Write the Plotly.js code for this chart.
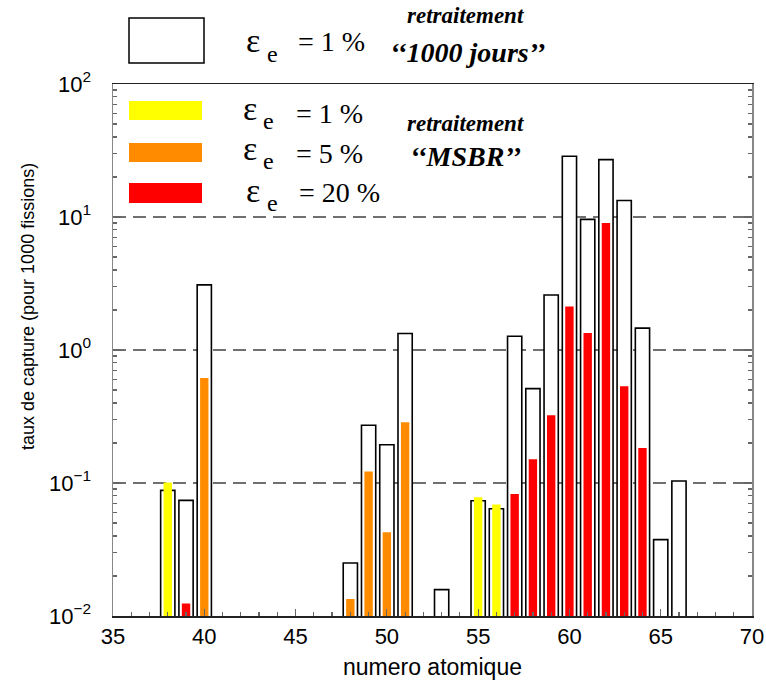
<!DOCTYPE html>
<html>
<head>
<meta charset="utf-8">
<script src="https://cdn.plot.ly/plotly-3.0.1.min.js"></script>
<style>html,body{margin:0;padding:0;background:#fff;}#chart{width:766px;height:683px;}</style>
</head>
<body>
<div id="chart"></div>
<script>
// ---- data ----
// retraitement "1000 jours", eps_e = 1 %
var z_1000 = [38, 39, 40, 48, 49, 50, 51, 53, 55, 56, 57, 58, 59, 60, 61, 62, 63, 64, 65, 66];
var taux_1000 = [0.088, 0.074, 3.09, 0.025, 0.272, 0.194, 1.33, 0.0158, 0.0736, 0.0641,
                 1.27, 0.512, 2.59, 28.6, 9.6, 27.0, 13.3, 1.46, 0.0375, 0.1035];
// retraitement "MSBR"
var z_msbr1 = [38, 55, 56];                 // eps_e = 1 %
var taux_msbr1 = [0.101, 0.078, 0.069];
var z_msbr5 = [40, 48, 49, 50, 51];         // eps_e = 5 %
var taux_msbr5 = [0.617, 0.0134, 0.122, 0.0426, 0.286];
var z_msbr20 = [39, 57, 58, 59, 60, 61, 62, 63, 64];   // eps_e = 20 %
var taux_msbr20 = [0.0124, 0.0827, 0.151, 0.323, 2.12, 1.34, 9.0, 0.533, 0.183];

var yTickVals = [0.01, 0.1, 1, 10, 100];
var yTickText = ['10<sup>\u22122</sup>', '10<sup>\u22121</sup>', '10<sup>0</sup>', '10<sup>1</sup>', '10<sup>2</sup>'];
var xTitle = 'numero atomique';
var yTitle = 'taux de capture (pour 1000 fissions)';

// ---- layout helpers ----
var L = 113, R = 14, T = 84, B = 67, W = 766, H = 683;
var pw = W - L - R, ph = H - T - B;
function px(x) { return (x - L) / pw; }
function py(y) { return (H - B - y) / ph; }

var minorVals = [];
[0.01, 0.1, 1, 10].forEach(function (d) { for (var k = 2; k <= 9; k++) minorVals.push(d * k); });

var traces = [
  { type: 'bar', x: z_1000, y: taux_1000, width: 0.78,
    marker: { color: '#ffffff', line: { color: '#000000', width: 1.6 } },
    name: '1000 jours', hoverinfo: 'x+y' },
  { type: 'bar', x: z_msbr1, y: taux_msbr1, width: 0.46,
    marker: { color: '#ffff00', line: { width: 0 } }, name: 'MSBR 1%' },
  { type: 'bar', x: z_msbr5, y: taux_msbr5, width: 0.46,
    marker: { color: '#ff8c00', line: { width: 0 } }, name: 'MSBR 5%' },
  { type: 'bar', x: z_msbr20, y: taux_msbr20, width: 0.46,
    marker: { color: '#ff0000', line: { width: 0 } }, name: 'MSBR 20%' }
];

var serif = 'Liberation Serif, Times New Roman, serif';
var sans = 'Liberation Sans, Arial, Helvetica, sans-serif';
function ann(text, x, y, size, anchor, extra) {
  var a = { text: text, xref: 'paper', yref: 'paper', x: px(x), y: py(y),
    xanchor: anchor || 'center', yanchor: 'middle', showarrow: false,
    font: { family: serif, size: size, color: '#000' } };
  if (extra) for (var k in extra) a[k] = extra[k];
  return a;
}

var annotations = [
  ann('\u03b5', 253, 40, 34), ann('e', 272, 54, 24), ann('= 1 %', 296, 42, 28, 'left'),
  ann('<b><i>retraitement</i></b>', 465, 16, 23),
  ann('<b><i>\u2018\u20181000 jours\u2019\u2019</i></b>', 467, 52, 28),
  ann('\u03b5', 250, 108, 34), ann('e', 268, 121, 24), ann('= 1 %', 294, 113, 28, 'left'),
  ann('\u03b5', 250, 148, 34), ann('e', 268, 161, 24), ann('= 5 %', 294, 153, 28, 'left'),
  ann('\u03b5', 253, 190, 34), ann('e', 272, 203, 24), ann('= 20 %', 297, 192, 28, 'left'),
  ann('<b><i>retraitement</i></b>', 465, 123, 23),
  ann('<b><i>\u2018\u2018MSBR\u2019\u2019</i></b>', 465, 157, 28),
  // axis titles
  ann(xTitle, 432, 667, 23, 'center', { font: { family: sans, size: 23, color: '#000' } }),
  ann(yTitle, 28, 307, 18, 'center', { textangle: -90, font: { family: sans, size: 18, color: '#000' } })
];

function rect(x0, x1, y0, y1, fill, line) {
  return { type: 'rect', xref: 'paper', yref: 'paper', x0: px(x0), x1: px(x1), y0: py(y1), y1: py(y0),
    fillcolor: fill, line: line, layer: 'above' };
}
var shapes = [
  rect(129, 204, 18, 63, '#ffffff', { color: '#000', width: 1.5 }),
  rect(129, 202, 101, 120, '#ffff00', { width: 0 }),
  rect(129, 202, 143, 162, '#ff8c00', { width: 0 }),
  rect(129, 202, 183, 203, '#ff0000', { width: 0 })
];

var tickFont = { family: sans, size: 22, color: '#000' };
var layout = {
  width: W, height: H,
  margin: { l: L, r: R, t: T, b: B, pad: 0 },
  paper_bgcolor: '#fff', plot_bgcolor: '#fff',
  barmode: 'overlay', showlegend: false,
  xaxis: {
    range: [35, 70], dtick: 5, tick0: 35, ticks: 'inside', ticklen: 7, tickwidth: 1.2, tickcolor: '#666',
    minor: { dtick: 1, ticks: 'inside', ticklen: 4, tickcolor: '#666', showgrid: false },
    showgrid: false, zeroline: false, showline: true, linecolor: '#222', linewidth: 1.5, mirror: true,
    tickfont: tickFont, ticklabelstandoff: 0
  },
  yaxis: {
    type: 'log', range: [-2, 2], tickmode: 'array', tickvals: yTickVals, ticktext: yTickText,
    ticks: 'inside', ticklen: 8, tickwidth: 1.2, tickcolor: '#666',
    minor: { tickmode: 'array', tickvals: minorVals, ticks: 'inside', ticklen: 4, tickcolor: '#666', showgrid: false },
    showgrid: true, gridcolor: '#707070', gridwidth: 1.5, griddash: '13px,7px',
    zeroline: false, showline: true, linecolor: '#888', linewidth: 1.5, mirror: 'ticks',
    tickfont: tickFont, ticklabelstandoff: 16
  },
  annotations: annotations,
  shapes: shapes
};

Plotly.newPlot('chart', traces, layout, { displayModeBar: false, staticPlot: true });
</script>
</body>
</html>
